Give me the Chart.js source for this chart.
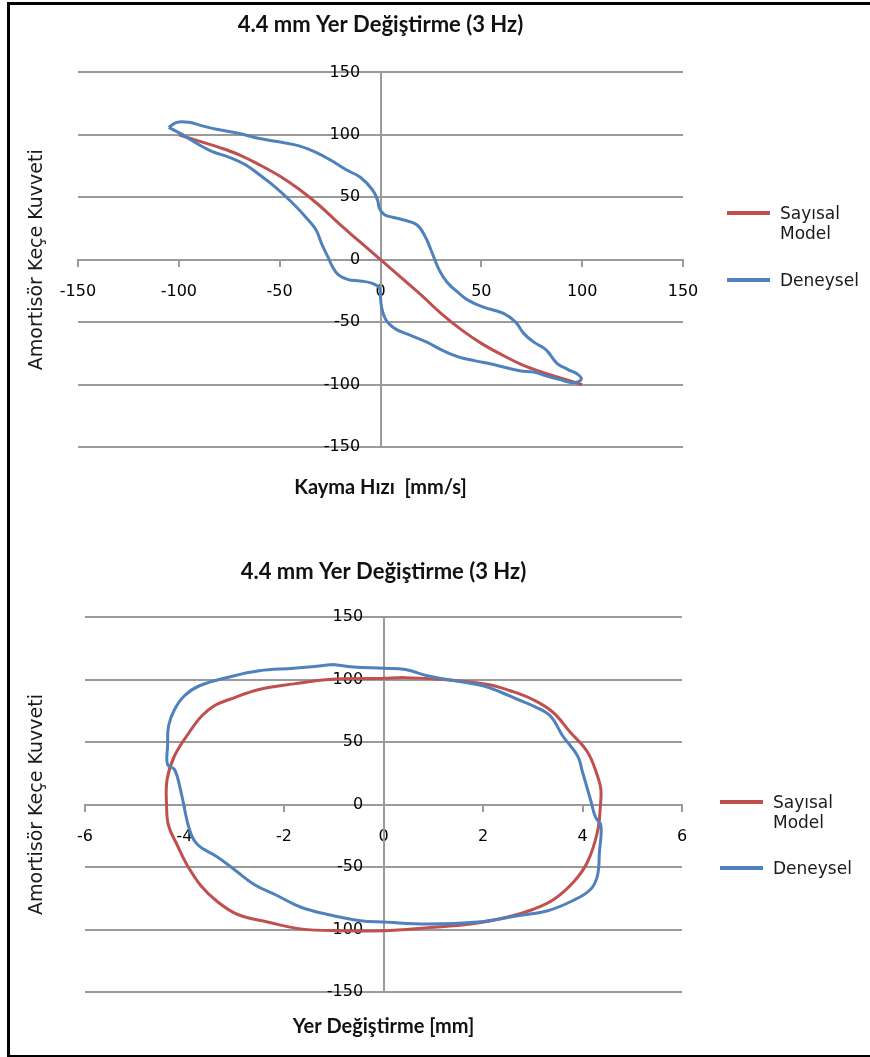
<!DOCTYPE html>
<html>
<head>
<meta charset="utf-8">
<title>4.4 mm Yer Değiştirme (3 Hz)</title>
<script src="https://cdn.jsdelivr.net/npm/chart.js@4.4.1/dist/chart.umd.min.js"></script>
<style>
  html, body { margin: 0; padding: 0; background: #fff; }
  body { width: 870px; height: 1057px; position: relative; overflow: hidden; }
  .frame { position: absolute; left: 7px; top: 2px; width: 870px; height: 1056px; border: 3px solid #000; box-sizing: border-box; }
  canvas { position: absolute; left: 0; }
  #vel_chart { top: 0; }
  #disp_chart { top: 530px; }
  .legend { position: absolute; left: 0; top: 0; font-family: "DejaVu Sans", sans-serif; font-size: 17px; color: #1a1a1a; }
  .swatch { position: absolute; width: 43px; height: 4px; }
  .lbl { position: absolute; line-height: 20px; white-space: nowrap; }
</style>
</head>
<body>
<div class="frame"></div>
<canvas id="vel_chart" width="870" height="530"></canvas>
<canvas id="disp_chart" width="870" height="527"></canvas>

<div class="legend">
  <div class="swatch" style="left:727px; top:211px; background:#C0504D"></div>
  <div class="lbl" style="left:780px; top:203px">Sayısal<br>Model</div>
  <div class="swatch" style="left:727px; top:278px; background:#4F81BD"></div>
  <div class="lbl" style="left:780px; top:270px">Deneysel</div>

  <div class="swatch" style="left:720px; top:800px; background:#C0504D"></div>
  <div class="lbl" style="left:773px; top:792px">Sayısal<br>Model</div>
  <div class="swatch" style="left:720px; top:866px; background:#4F81BD"></div>
  <div class="lbl" style="left:773px; top:858px">Deneysel</div>
</div>

<script>
const titleText = "4.4 mm Yer Değiştirme (3 Hz)";
const forceTitle = "Amortisör Keçe Kuvveti";
const seriesNames = ["Sayısal Model", "Deneysel"];

// Top chart: force vs sliding velocity (mm/s)
const velTicks = [-150, -100, -50, 0, 50, 100, 150];
const forceTicks = [-150, -100, -50, 0, 50, 100, 150];

const velModelX = [-100, -90, -80, -70, -60, -50, -40, -30, -20, -10, 0, 10, 20, 30, 40, 50, 60, 70, 80, 90, 100];
const velModelY = [100, 95, 90, 84, 76, 67, 56, 43, 28, 14, 0, -14, -28, -43, -56, -67, -76, -84, -90, -95, -100];

const velTestX = [
  -105, -101, -95, -88, -80, -70, -60, -49, -40, -32, -25, -17, -10, -4, -1.5, -0.5, 2, 6, 11, 18,
  22, 25, 29, 33, 39, 44, 51, 61, 67, 71, 76, 82, 87.5, 93, 98, 99.5, 95.5,
  89, 82, 76, 69, 56, 47, 39, 30, 23, 14, 8, 4, 2, 0.5, 0, -0.5, -4, -10, -16,
  -21, -24, -26, -29, -32, -37, -44, -52, -60, -67, -75, -84, -91, -98, -105
];
const velTestY = [
  106, 110, 110, 107, 104, 101, 97, 94, 91, 86, 80, 72, 66, 56, 48, 41, 36, 34, 32, 28,
  19, 8, -8, -18, -27, -33, -38, -43, -50, -59, -66, -72, -83, -88, -92, -96, -98.5,
  -96, -93, -90, -89, -84, -81, -78, -72, -66, -60, -56, -51, -46, -38, -30, -23, -19, -17, -16,
  -12, -5, 2, 12, 24, 34, 46, 58, 68, 76, 82, 87, 93, 100, 106
];

// Bottom chart: force vs displacement (mm)
const dispTicks = [-6, -4, -2, 0, 2, 4, 6];

const dispModelX = [
  0, -1.1, -1.8, -2.5, -3.1, -3.4, -3.65, -3.9, -4.2, -4.35, -4.36, -4.32, -4.14, -3.94, -3.67, -3.33, -2.93,
  -2.33, -1.67, -0.8, 0, 0.9, 1.75, 2.5, 3.0, 3.42, 3.82, 4.1, 4.3, 4.36, 4.37, 4.3, 4.1, 3.75,
  3.4, 3.0, 2.55, 2.1, 1.2, 0.44, 0
];
const dispModelY = [
  101, 100, 96.5, 92, 84, 79, 71, 58, 39, 20, -1, -17, -33, -49, -65, -78, -88,
  -94, -99.5, -101, -101, -98.5, -95.6, -90, -84, -76, -62, -46, -22, -1, 12, 23, 42, 58,
  74, 84, 91, 96, 100, 101.5, 101
];

const dispTestX = [
  -1, -1.8, -2.5, -3.1, -3.7, -4.0, -4.2, -4.32, -4.34, -4.34, -4.2, -4.07, -3.9, -3.74, -3.34, -3.0,
  -2.6, -2.13, -1.67, -1.12, -0.46, 0, 0.88, 1.9, 2.7, 3.3, 3.8, 4.16, 4.3, 4.34, 4.37, 4.26,
  4.16, 4.0, 3.9, 3.6, 3.35, 3.0, 2.7, 2.35, 2.0, 1.28, 0.88, 0.44, 0, -0.6, -1
];
const dispTestY = [
  112, 109, 107, 102, 95, 87, 76, 63, 47, 32, 28, 10, -20, -32, -42, -52,
  -64, -73, -82, -88, -93, -94, -95.6, -94, -89, -85, -77, -68, -57, -38, -17, -10,
  4, 26, 39, 55, 71, 79, 84, 90, 95, 100, 103, 108, 109, 110, 112
];

const RED = "#C0504D";
const BLUE = "#4F81BD";
const GRID = "#9a9a9a";

function pts(xs, ys) {
  return xs.map((x, i) => ({ x: x, y: ys[i] }));
}

function series(name, xs, ys, color, order) {
  return {
    label: name,
    data: pts(xs, ys),
    borderColor: color,
    backgroundColor: color,
    borderWidth: 3,
    showLine: true,
    pointRadius: 0,
    tension: 0.4,
    fill: false,
    order: order,
  };
}

function makeChart(canvas, cfg) {
  const tickFont = { family: "'DejaVu Sans', sans-serif", size: 16 };
  const xMin = cfg.xTicks[0];
  const xMax = cfg.xTicks[cfg.xTicks.length - 1];

  return new Chart(canvas, {
    type: "scatter",
    data: {
      datasets: [
        series(seriesNames[0], cfg.modelX, cfg.modelY, RED, 1),
        series(seriesNames[1], cfg.testX, cfg.testY, BLUE, 0),
      ],
    },
    options: {
      responsive: false,
      animation: false,
      events: [],
      layout: { padding: { left: 0, right: cfg.padRight, top: 0, bottom: 0 } },
      scales: {
        x: {
          type: "linear",
          position: { y: 0 },
          min: xMin,
          max: xMax,
          afterBuildTicks: (axis) => { axis.ticks = cfg.xTicks.map((v) => ({ value: v })); },
          ticks: { padding: 17, color: "#000", font: tickFont, maxRotation: 0, autoSkip: false },
          grid: { drawOnChartArea: false, drawTicks: true, tickLength: 6, color: GRID, lineWidth: 2 },
          border: { display: true, color: GRID, width: 2 },
        },
        y: {
          type: "linear",
          position: { x: 0 },
          min: -150,
          max: 150,
          afterBuildTicks: (axis) => { axis.ticks = forceTicks.map((v) => ({ value: v })); },
          // labels on a centred axis get no padding, so pad them with trailing spaces
          ticks: { color: "#000", font: tickFont, autoSkip: false, callback: (v) => v + "    " },
          grid: { color: GRID, lineWidth: 2, drawTicks: false },
          border: { display: true, color: GRID, width: 2 },
        },
        // title-only axes so the axis names sit at the outer edges
        xName: {
          type: "linear",
          position: "bottom",
          min: xMin,
          max: xMax,
          ticks: { display: false },
          grid: { display: false, drawTicks: false },
          border: { display: false },
          title: {
            display: true,
            text: cfg.xTitle,
            color: "#111",
            font: { family: "Lato, sans-serif", size: 20, weight: "bold", lineHeight: 1.2 },
            padding: cfg.xTitlePad,
          },
        },
        yName: {
          type: "linear",
          position: "left",
          min: -150,
          max: 150,
          ticks: { display: false },
          grid: { display: false, drawTicks: false },
          border: { display: false },
          title: {
            display: true,
            text: forceTitle,
            color: "#1a1a1a",
            font: { family: "'DejaVu Sans', sans-serif", size: 19, lineHeight: 1.2 },
            padding: cfg.yTitlePad,
          },
        },
      },
      plugins: {
        legend: { display: false },
        tooltip: { enabled: false },
        title: {
          display: true,
          fullSize: false,
          text: titleText,
          color: "#111",
          font: { family: "Lato, sans-serif", size: 22, weight: "bold", lineHeight: 1.2 },
          padding: cfg.titlePad,
        },
      },
    },
  });
}

makeChart(document.getElementById("vel_chart"), {
  xTicks: velTicks,
  modelX: velModelX, modelY: velModelY,
  testX: velTestX, testY: velTestY,
  xTitle: "Kayma Hızı  [mm/s]",
  padRight: 187,
  titlePad: { top: 12, bottom: 34 },
  xTitlePad: { top: 29, bottom: 30 },
  yTitlePad: { top: 25.6, bottom: 29.6 },
});

makeChart(document.getElementById("disp_chart"), {
  xTicks: dispTicks,
  modelX: dispModelX, modelY: dispModelY,
  testX: dispTestX, testY: dispTestY,
  xTitle: "Yer Değiştirme [mm]",
  padRight: 188,
  titlePad: { top: 28.8, bottom: 31.8 },
  xTitlePad: { top: 23, bottom: 18 },
  yTitlePad: { top: 25.6, bottom: 36.6 },
});
</script>
</body>
</html>
